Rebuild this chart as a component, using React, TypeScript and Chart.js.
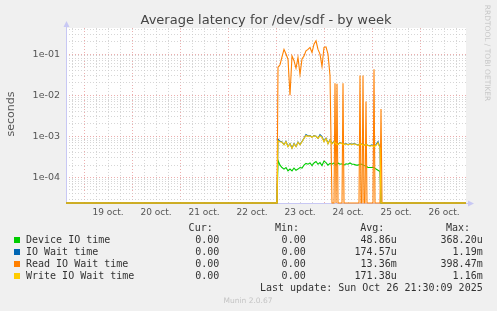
import React, { useEffect, useRef } from "react";
import { Chart, registerables } from "chart.js";

Chart.register(...registerables);

// hours since 19 Oct 00:00
const X_MIN = -9;
const X_MAX = 191;
const Y_MIN = 2.4e-5;
const Y_MAX = 0.43;

const DAY_LABELS = ["19 oct.", "20 oct.", "21 oct.", "22 oct.", "23 oct.", "24 oct.", "25 oct.", "26 oct."];

const TIMES = [
  -9, 96.5,
  97, 98, 99, 100, 101, 102, 103, 104, 105, 106, 107, 108, 109, 110, 111, 112, 113, 114, 115, 116,
  117, 118, 119, 120, 121, 122, 123, 124, 125, 126, 127, 128, 129, 130, 131, 132, 133, 134, 135, 136,
  137, 138, 139, 140, 141, 142, 143, 144, 145, 146, 147, 148,
  148.5, 191,
];

const DEVICE_IO = [
  0, 0,
  2.6e-4, 2.0e-4, 1.75e-4, 1.6e-4, 1.75e-4, 1.45e-4, 1.6e-4, 1.45e-4, 1.7e-4, 1.5e-4,
  1.6e-4, 1.75e-4, 1.7e-4, 2.0e-4, 2.2e-4, 2.1e-4, 2.25e-4, 1.95e-4, 2.25e-4, 2.45e-4,
  2.1e-4, 2.3e-4, 1.95e-4, 2.5e-4, 2.3e-4, 2.0e-4, 2.2e-4, 2.1e-4, 2.25e-4, 2.0e-4,
  2.25e-4, 2.1e-4, 2.15e-4, 2.0e-4, 2.15e-4, 2.1e-4, 2.25e-4, 2.1e-4, 2.1e-4, 2.0e-4,
  2.0e-4, 2.1e-4, 2.1e-4, 1.95e-4, 1.9e-4, 1.75e-4, 1.75e-4, 1.75e-4, 1.75e-4, 1.6e-4,
  1.5e-4, 1.4e-4,
  0, 0,
];

const IO_WAIT = [
  0, 0,
  8.6e-4, 7.6e-4, 7.3e-4, 6.3e-4, 7.5e-4, 5.7e-4, 6.7e-4, 5.2e-4, 6.7e-4, 5.7e-4,
  7.3e-4, 6.3e-4, 7.5e-4, 9.0e-4, 1.1e-3, 1.02e-3, 1.05e-3, 9.6e-4, 1.04e-3, 1.01e-3,
  9.0e-4, 1.1e-3, 9.9e-4, 7.6e-4, 9.0e-4, 6.7e-4, 8.3e-4, 6.7e-4, 7.5e-4, 6.7e-4,
  6.4e-4, 7.1e-4, 6.7e-4, 6.4e-4, 6.7e-4, 6.3e-4, 6.7e-4, 6.4e-4, 6.7e-4, 6.4e-4,
  6.1e-4, 6.7e-4, 6.4e-4, 6.1e-4, 6.4e-4, 6.1e-4, 5.9e-4, 6.2e-4, 5.7e-4, 6.3e-4,
  7.4e-4, 5.3e-4,
  0, 0,
];

const WRITE_IO_WAIT = [
  0, 0,
  7.8e-4, 7.4e-4, 7.2e-4, 6.2e-4, 7.4e-4, 5.6e-4, 6.6e-4, 5.1e-4, 6.6e-4, 5.6e-4,
  7.2e-4, 6.2e-4, 7.4e-4, 8.9e-4, 1.05e-3, 1.0e-3, 1.03e-3, 9.5e-4, 1.03e-3, 1.0e-3,
  8.9e-4, 1.03e-3, 9.5e-4, 7.4e-4, 8.9e-4, 6.6e-4, 8.2e-4, 6.6e-4, 7.4e-4, 6.6e-4,
  6.3e-4, 7.0e-4, 6.6e-4, 6.3e-4, 6.6e-4, 6.2e-4, 6.6e-4, 6.3e-4, 6.6e-4, 6.3e-4,
  6.0e-4, 6.6e-4, 6.3e-4, 6.0e-4, 6.3e-4, 6.0e-4, 5.8e-4, 6.0e-4, 5.6e-4, 6.0e-4,
  7.0e-4, 5.2e-4,
  0, 0,
];

const READ_TIMES = [
  -9, 96.5,
  97, 98, 99, 100, 101, 102, 103, 104, 105, 106, 107, 108, 109, 110, 111, 112, 113, 114, 115, 116,
  117, 118, 119, 120, 121, 122, 123,
  124, 125, 125.5, 126, 126.5, 127, 129, 129.5, 130,
  137.5, 138, 138.5, 139, 139.5, 140, 140.5, 141, 141.5,
  144.5, 145, 145.5, 148, 148.5, 149, 191,
];

const READ_IO_WAIT = [
  0, 0,
  0.048, 0.055, 0.085, 0.13, 0.1, 0.075, 0.01, 0.09, 0.069, 0.045, 0.083, 0.032, 0.076, 0.09,
  0.12, 0.13, 0.145, 0.11, 0.174, 0.21, 0.13, 0.1, 0.05, 0.145, 0.15, 0.1, 0.03,
  0, 0, 0.0195, 0, 0.019, 0, 0, 0.0195, 0,
  0, 0.03, 0, 0, 0.03, 0, 0, 0.007, 0,
  0, 0.043, 0, 0, 0.0046, 0, 0,
];

const SERIES_NAMES = ["Device IO time", "IO Wait time", "Read IO Wait time", "Write IO Wait time"];
const SERIES_COLORS = ["#00CC00", "#0066B3", "#FF8000", "#FFCC00"];
const CUR = ["0.00", "0.00", "0.00", "0.00"];
const MIN = ["0.00", "0.00", "0.00", "0.00"];
const AVG = ["48.86u", "174.57u", "13.36m", "171.38u"];
const MAX = ["368.20u", "1.19m", "398.47m", "1.16m"];

const TITLE = "Average latency for /dev/sdf - by week";
const Y_TITLE = "seconds";
const SIDE_TEXT = "RRDTOOL / TOBI OETIKER";
const LAST_UPDATE = "Last update: Sun Oct 26 21:30:09 2025";
const FOOTER = "Munin 2.0.67";

const RED_GRID = "rgba(230,140,140,0.7)";
const GREY_GRID = "rgba(200,200,200,0.75)";
const AXIS_COLOR = "#c8c8f4";

function pts(times: number[], values: number[]) {
  return times.map((t, i) => ({ x: t, y: values[i] > 0 ? values[i] : Y_MIN }));
}

function isDecade(v: number) {
  const l = Math.log10(v);
  return Math.abs(l - Math.round(l)) < 1e-6;
}

function fmtExp(v: number) {
  const e = Math.round(Math.log10(v));
  return "1e" + (e < 0 ? "-" : "+") + String(Math.abs(e)).padStart(2, "0");
}

const bgPlugin = {
  id: "muninBg",
  beforeDraw(chart: any) {
    const { ctx, chartArea: a } = chart;
    ctx.save();
    ctx.fillStyle = "#f0f0f0";
    ctx.fillRect(0, 0, chart.width, chart.height);
    ctx.fillStyle = "#ffffff";
    ctx.fillRect(a.left, a.top, a.right - a.left, a.bottom - a.top);
    ctx.restore();
  },
  beforeDatasetsDraw(chart: any) {
    const { ctx, chartArea: a } = chart;
    ctx.save();
    ctx.strokeStyle = AXIS_COLOR;
    ctx.fillStyle = AXIS_COLOR;
    ctx.lineWidth = 1;
    ctx.beginPath();
    ctx.moveTo(a.left + 0.5, a.bottom);
    ctx.lineTo(a.left + 0.5, a.top - 2);
    ctx.moveTo(a.left, a.bottom + 0.5);
    ctx.lineTo(a.right + 2, a.bottom + 0.5);
    ctx.stroke();
    ctx.beginPath();
    ctx.moveTo(a.left - 2.5, a.top - 1);
    ctx.lineTo(a.left + 3.5, a.top - 1);
    ctx.lineTo(a.left + 0.5, a.top - 7);
    ctx.closePath();
    ctx.fill();
    ctx.beginPath();
    ctx.moveTo(a.right + 2, a.bottom - 2.5);
    ctx.lineTo(a.right + 2, a.bottom + 3.5);
    ctx.lineTo(a.right + 8, a.bottom + 0.5);
    ctx.closePath();
    ctx.fill();
    ctx.restore();
  },
};

const abs = (o: React.CSSProperties): React.CSSProperties => ({ position: "absolute", whiteSpace: "nowrap", ...o });
const MONO = "'DejaVu Sans Mono', monospace";
const SANS = "'DejaVu Sans', sans-serif";

export default function App() {
  const ref = useRef<HTMLCanvasElement | null>(null);

  useEffect(() => {
    if (!ref.current) return;
    const seriesData = [
      pts(TIMES, DEVICE_IO),
      pts(TIMES, IO_WAIT),
      pts(READ_TIMES, READ_IO_WAIT),
      pts(TIMES, WRITE_IO_WAIT),
    ];
    const chart = new Chart(ref.current, {
      type: "line",
      data: {
        datasets: seriesData.map((d, i) => ({
          label: SERIES_NAMES[i],
          data: d,
          borderColor: SERIES_COLORS[i],
          backgroundColor: SERIES_COLORS[i],
          borderWidth: 1.1,
          pointRadius: 0,
          tension: 0,
          fill: false,
          order: 3 - i,
          clip: 2,
        })),
      },
      options: {
        animation: false,
        responsive: false,
        events: [],
        layout: { padding: { top: 28, right: 31, left: 0, bottom: 0 } },
        plugins: { legend: { display: false }, tooltip: { enabled: false }, title: { display: false } },
        scales: {
          x: {
            type: "linear",
            min: X_MIN,
            max: X_MAX,
            afterFit: (s: any) => {
              s.height = 108;
            },
            afterBuildTicks: (s: any) => {
              const t = [];
              for (let v = -6; v <= X_MAX; v += 6) t.push({ value: v });
              s.ticks = t;
            },
            grid: {
              drawTicks: false,
              lineWidth: 1,
              color: (c: any) => (c.tick && ((c.tick.value % 24) + 24) % 24 === 0 ? RED_GRID : GREY_GRID),
            },
            border: { display: false, dash: [1, 2] },
            ticks: {
              autoSkip: false,
              maxRotation: 0,
              padding: 4,
              color: "#555",
              font: { family: "DejaVu Sans", size: 9 },
              callback: (v: any) => {
                const n = Number(v);
                if (((n % 24) + 24) % 24 !== 12) return "";
                const d = Math.floor(n / 24);
                return DAY_LABELS[d] ?? "";
              },
            },
          },
          y: {
            type: "logarithmic",
            min: Y_MIN,
            max: Y_MAX,
            afterFit: (s: any) => {
              s.width = 66;
            },
            afterBuildTicks: (s: any) => {
              const t = [];
              for (let e = -5; e <= 0; e++) {
                for (let m = 1; m <= 9; m++) {
                  const v = m * Math.pow(10, e);
                  if (v >= Y_MIN && v <= Y_MAX) t.push({ value: v });
                }
              }
              s.ticks = t;
            },
            grid: {
              drawTicks: false,
              lineWidth: 1,
              color: (c: any) => (c.tick && isDecade(c.tick.value) ? RED_GRID : GREY_GRID),
            },
            border: { display: false, dash: [1, 2] },
            ticks: {
              autoSkip: false,
              padding: 6,
              color: "#555",
              font: { family: "DejaVu Sans", size: 9.5 },
              callback: (v: any) => (isDecade(Number(v)) ? fmtExp(Number(v)) : ""),
            },
          },
        },
      },
      plugins: [bgPlugin],
    } as any);
    return () => chart.destroy();
  }, []);

  const rowTop = (k: number) => 233.7 + 12 * k;

  return (
    <div style={{ position: "fixed", left: 0, top: 0, width: 497, height: 311, background: "#f0f0f0", overflow: "hidden" }}>
      <canvas ref={ref} width={497} height={311} style={{ display: "block", width: 497, height: 311 }} />
      <div style={abs({ left: 66, width: 400, top: 11, lineHeight: "17px", fontSize: 13, fontFamily: SANS, color: "#444", textAlign: "center" })}>
        {TITLE}
      </div>
      <div
        style={abs({
          left: -19,
          top: 107,
          width: 60,
          height: 14,
          textAlign: "center",
          fontSize: 11,
          lineHeight: "14px",
          fontFamily: SANS,
          fontWeight: 400,
          color: "#555",
          transform: "rotate(-90deg)",
        })}
      >
        {Y_TITLE}
      </div>
      <div
        style={abs({
          left: 437,
          top: 48,
          width: 100,
          height: 10,
          textAlign: "center",
          fontSize: 7.5,
          lineHeight: "10px",
          fontFamily: SANS,
          color: "#c8c8c8",
          transform: "rotate(90deg)",
        })}
      >
        {SIDE_TEXT}
      </div>
      {[
        ["Cur:", 212.7],
        ["Min:", 299],
        ["Avg:", 384.3],
        ["Max:", 470],
      ].map(([t, r]) => (
        <div
          key={t as string}
          style={abs({ right: 497 - (r as number), top: 221.7, lineHeight: "12px", fontSize: 10, fontFamily: MONO, color: "#333" })}
        >
          {t}
        </div>
      ))}
      {SERIES_NAMES.map((name, k) => (
        <React.Fragment key={name}>
          <div style={abs({ left: 14, top: rowTop(k) + 3, width: 6, height: 6, background: SERIES_COLORS[k] })} />
          <div style={abs({ left: 26, top: rowTop(k), lineHeight: "12px", fontSize: 10, fontFamily: MONO, color: "#333" })}>{name}</div>
          {[
            [CUR[k], 219.3],
            [MIN[k], 305.7],
            [AVG[k], 396.7],
            [MAX[k], 482.7],
          ].map(([t, r], j) => (
            <div
              key={j}
              style={abs({ right: 497 - (r as number), top: rowTop(k), lineHeight: "12px", fontSize: 10, fontFamily: MONO, color: "#333" })}
            >
              {t}
            </div>
          ))}
        </React.Fragment>
      ))}
      <div style={abs({ right: 497 - 482.7, top: 281.7, lineHeight: "12px", fontSize: 10, fontFamily: MONO, color: "#333" })}>
        {LAST_UPDATE}
      </div>
      <div style={abs({ left: 248, top: 300, transform: "translate(-50%, -50%)", fontSize: 7.5, lineHeight: "9px", fontFamily: SANS, color: "#c4c4c4" })}>
        {FOOTER}
      </div>
    </div>
  );
}
